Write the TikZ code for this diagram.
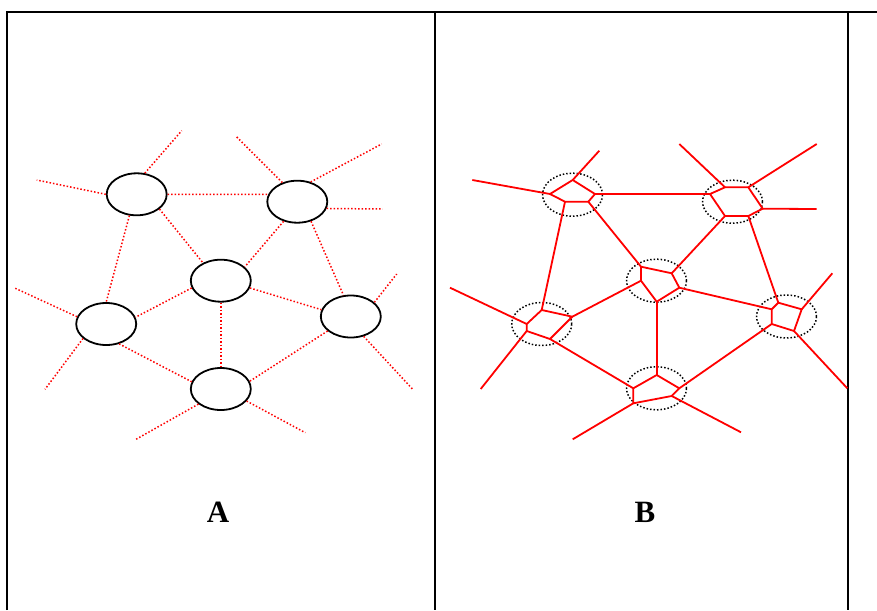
\documentclass[tikz,border=0pt]{standalone}
\usepackage{fontspec}
\setmainfont{Liberation Serif}
\usetikzlibrary{shapes.geometric}
\definecolor{VorRed}{RGB}{255,0,0}
\tikzset{
  vor/frame/.style={draw=black, line width=2pt},
  vor/site/.style={
    ellipse,
    draw=black,
    line width=1.8pt,
    minimum width=60pt,
    minimum height=42pt,
    inner sep=0pt
  },
  vor/zone/.style={
    ellipse,
    draw=black,
    line width=1.5pt,
    dotted,
    minimum width=60pt,
    minimum height=43pt,
    inner sep=0pt
  },
  vor/link/.style={draw=VorRed, line width=1.5pt, dotted},
  vor/edge/.style={draw=VorRed, line width=1.8pt, line join=round},
  vor/label/.style={font=\bfseries\fontsize{31}{31}\selectfont, inner sep=0pt}
}

\begin{document}
\begin{tikzpicture}[x=1pt,y=-1pt]
  \useasboundingbox (0,0) rectangle (877,610);
  \draw[vor/frame] (7,610) |- (877,12);
  \draw[vor/frame] (435,12) -- (435,610);
  \draw[vor/frame] (848,12) -- (848,610);

  % panel A
  \node[vor/site] (a1) at (136.7,194.3) {};
  \node[vor/site] (a2) at (297.3,201.7) {};
  \node[vor/site] (a3) at (220.8,280.7) {};
  \node[vor/site] (a4) at (106.2,324) {};
  \node[vor/site] (a5) at (350.8,316.5) {};
  \node[vor/site] (a6) at (220.8,389) {};
  \coordinate (a1up) at (181.7,130.7);
  \coordinate (a1out) at (36.7,180);
  \coordinate (a2up) at (235.7,136);
  \coordinate (a2ne) at (381.7,144);
  \coordinate (a2out) at (382.7,209);
  \coordinate (a4out) at (14,287.7);
  \coordinate (a4sw) at (45,389.3);
  \coordinate (a5ne) at (396.7,274);
  \coordinate (a5se) at (412.7,389.3);
  \coordinate (a6sw) at (136,439.3);
  \coordinate (a6se) at (305.3,432.7);
  \draw[vor/link] (a1.east) -- (a2.166);
  \draw[vor/link] (a1.-33) -- (a3.135);
  \draw[vor/link] (a1.251) -- (a4.north);
  \draw[vor/link] (a2.235) -- (a3.30);
  \draw[vor/link] (a2.-55) -- (a5.109);
  \draw[vor/link] (a3.194) -- (a4.13);
  \draw[vor/link] (a3.-14) -- (a5.167);
  \draw[vor/link] (a3.south) -- (a6.north);
  \draw[vor/link] (a4.-57) -- (a6.166);
  \draw[vor/link] (a5.212) -- (a6.15);
  \draw[vor/link] (a1.69) -- (a1up);
  \draw[vor/link] (a1.west) -- (a1out);
  \draw[vor/link] (a2.128) -- (a2up);
  \draw[vor/link] (a2.56) -- (a2ne);
  \draw[vor/link] (a2.-13) -- (a2out);
  \draw[vor/link] (a4.166) -- (a4out);
  \draw[vor/link] (a4.212) -- (a4sw);
  \draw[vor/link] (a5.31) -- (a5ne);
  \draw[vor/link] (a5.-57) -- (a5se);
  \draw[vor/link] (a6.214) -- (a6sw);
  \draw[vor/link] (a6.-25) -- (a6se);
  \node[vor/label] (labA) at (218,512) {A};

  % panel B
  \node[vor/zone] (b1) at (572.5,194.7) {};
  \node[vor/zone] (b2) at (732.5,201.7) {};
  \node[vor/zone] (b3) at (656.5,280.7) {};
  \node[vor/zone] (b4) at (541.7,324) {};
  \node[vor/zone] (b5) at (786.5,316.5) {};
  \node[vor/zone] (b6) at (656.5,388.3) {};
  \coordinate (b1t) at (572.7,180);
  \coordinate (b1l) at (550,194);
  \coordinate (b1r) at (595,194);
  \coordinate (b1bl) at (565,201.7);
  \coordinate (b1br) at (588.3,201.7);
  \coordinate (b2l) at (710,194);
  \coordinate (b2tl) at (725,187.3);
  \coordinate (b2tr) at (748.3,187.3);
  \coordinate (b2r) at (762.7,208.7);
  \coordinate (b2br) at (748.3,216);
  \coordinate (b2bl) at (725,216);
  \coordinate (b3tl) at (641,266.7);
  \coordinate (b3tr) at (671.7,273.3);
  \coordinate (b3r) at (679.3,287.7);
  \coordinate (b3b) at (656.7,301.7);
  \coordinate (b3l) at (641,280.7);
  \coordinate (b4t) at (541.7,310);
  \coordinate (b4r) at (572.3,316.7);
  \coordinate (b4l) at (526.7,324);
  \coordinate (b4ll) at (526.7,331);
  \coordinate (b4b) at (550,339);
  \coordinate (b5tl) at (778.3,302.7);
  \coordinate (b5l) at (771.7,309.3);
  \coordinate (b5tr) at (801.7,309.3);
  \coordinate (b5bl) at (771.7,324);
  \coordinate (b5br) at (794,331);
  \coordinate (b6t) at (656.7,375);
  \coordinate (b6l) at (633.3,388.3);
  \coordinate (b6r) at (679.3,388.3);
  \coordinate (b6bl) at (633.3,403.3);
  \coordinate (b6br) at (671.7,396);
  \coordinate (b1up) at (599.3,150.7);
  \coordinate (b1out) at (472.3,180);
  \coordinate (b2up) at (679.3,144);
  \coordinate (b2ne) at (816.7,144);
  \coordinate (b2out) at (816.7,209);
  \coordinate (b4out) at (450,287.7);
  \coordinate (b4sw) at (480.7,389);
  \coordinate (b5ne) at (832.3,273.3);
  \coordinate (b5se) at (847.3,388.3);
  \coordinate (b6sw) at (572.7,439.3);
  \coordinate (b6se) at (741,432.3);
  \draw[vor/edge] (b1t) -- (b1l) -- (b1bl) -- (b1br) -- (b1r) -- cycle;
  \draw[vor/edge] (b2l) -- (b2tl) -- (b2tr) -- (b2r) -- (b2br) -- (b2bl) -- cycle;
  \draw[vor/edge] (b3tl) -- (b3tr) -- (b3r) -- (b3b) -- (b3l) -- cycle;
  \draw[vor/edge] (b4t) -- (b4r) -- (b4b) -- (b4ll) -- (b4l) -- cycle;
  \draw[vor/edge] (b5tl) -- (b5tr) -- (b5br) -- (b5bl) -- (b5l) -- cycle;
  \draw[vor/edge] (b6t) -- (b6r) -- (b6br) -- (b6bl) -- (b6l) -- cycle;
  \draw[vor/edge] (b1r) -- (b2l);
  \draw[vor/edge] (b1bl) -- (b4t);
  \draw[vor/edge] (b1br) -- (b3tl);
  \draw[vor/edge] (b2bl) -- (b3tr);
  \draw[vor/edge] (b2br) -- (b5tl);
  \draw[vor/edge] (b3l) -- (b4r);
  \draw[vor/edge] (b3r) -- (b5l);
  \draw[vor/edge] (b3b) -- (b6t);
  \draw[vor/edge] (b4b) -- (b6l);
  \draw[vor/edge] (b5bl) -- (b6r);
  \draw[vor/edge] (b1t) -- (b1up);
  \draw[vor/edge] (b1l) -- (b1out);
  \draw[vor/edge] (b2tl) -- (b2up);
  \draw[vor/edge] (b2tr) -- (b2ne);
  \draw[vor/edge] (b2r) -- (b2out);
  \draw[vor/edge] (b4l) -- (b4out);
  \draw[vor/edge] (b4ll) -- (b4sw);
  \draw[vor/edge] (b5tr) -- (b5ne);
  \draw[vor/edge] (b5br) -- (b5se);
  \draw[vor/edge] (b6bl) -- (b6sw);
  \draw[vor/edge] (b6br) -- (b6se);
  \node[vor/label] (labB) at (645,512) {B};
\end{tikzpicture}
\end{document}
